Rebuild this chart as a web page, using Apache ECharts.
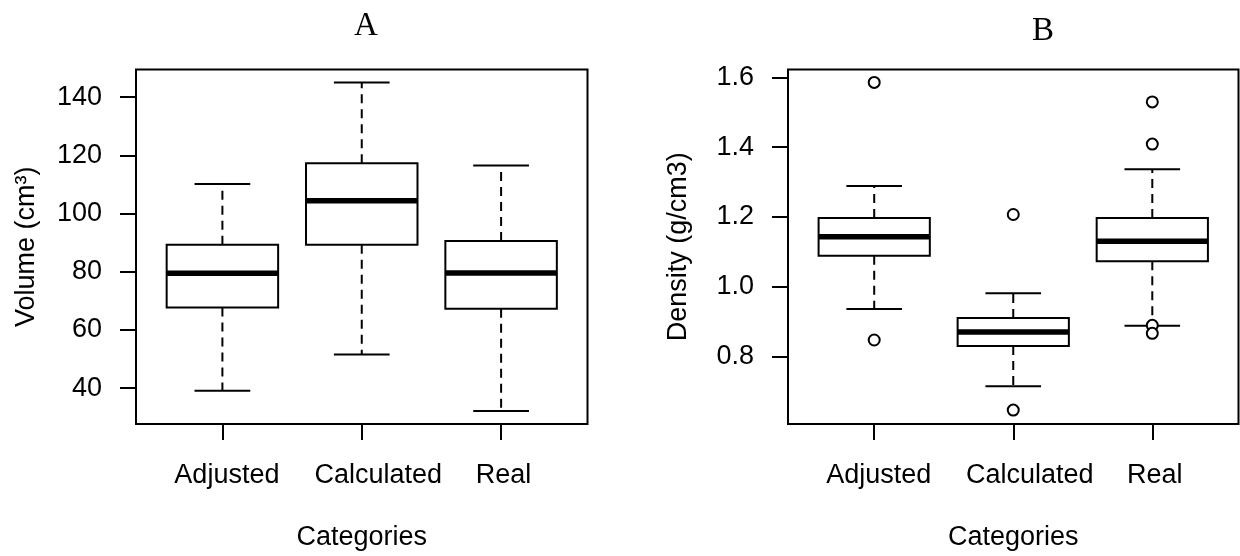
<!DOCTYPE html>
<html>
<head>
<meta charset="utf-8">
<script src="https://cdn.jsdelivr.net/npm/echarts@6.0.0/dist/echarts.min.js"></script>
<style>
  html, body { margin: 0; padding: 0; background: #fff; }
  #chart { width: 1240px; height: 556px; }
</style>
</head>
<body>
<div id="chart"></div>
<script>
// ---------------- DATA ----------------
const categories = ['Adjusted', 'Calculated', 'Real'];

// five-number summaries: [lower whisker, Q1, median, Q3, upper whisker]
const volumeAdjusted   = [39.1, 67.7, 79.5, 89.3, 110.2];
const volumeCalculated = [51.6, 89.3, 104.4, 117.3, 145.0];
const volumeReal       = [32.2, 67.3, 79.6, 90.6, 116.5];

const densityAdjusted   = [0.936, 1.089, 1.143, 1.197, 1.289];
const densityCalculated = [0.714, 0.830, 0.870, 0.910, 0.981];
const densityReal       = [0.888, 1.073, 1.130, 1.197, 1.337];

// outliers (density only)
const densityOutAdjusted   = [1.586, 0.847];
const densityOutCalculated = [1.207, 0.646];
const densityOutReal       = [1.530, 1.409, 0.889, 0.866];

const volumeTicks  = [40, 60, 80, 100, 120, 140];
const densityTicks = [0.8, 1.0, 1.2, 1.4, 1.6];
const volumeRange  = [27.7, 149.5];
const densityRange = [0.606, 1.623];

// ---------------- BUILD ----------------
function boxRows(list) {
  return list.map((s, i) => [i + 1].concat(s));
}
function outlierRows(list) {
  const rows = [];
  list.forEach((arr, i) => arr.forEach(v => rows.push([i + 1, v])));
  return rows;
}

const FONT = "'Liberation Sans', Arial, Helvetica, sans-serif";
const SERIF = "'Liberation Serif', 'Times New Roman', serif";
const FS = 27;
const LW = 2;

const richLabels = {
  a0: { fontFamily: FONT, fontSize: FS, color: '#000', padding: [0, 0, 0, 9] },
  a1: { fontFamily: FONT, fontSize: FS, color: '#000', padding: [0, 0, 0, 33] },
  a2: { fontFamily: FONT, fontSize: FS, color: '#000', padding: [0, 0, 0, 5] }
};

function renderBox(params, api) {
  const x = api.value(0);
  const lo = api.value(1), q1 = api.value(2), med = api.value(3), q3 = api.value(4), hi = api.value(5);
  const boxW = api.size([0.8, 0])[0];
  const capW = api.size([0.4, 0])[0];
  const pLo = api.coord([x, lo]);
  const pQ1 = api.coord([x, q1]);
  const pMed = api.coord([x, med]);
  const pQ3 = api.coord([x, q3]);
  const pHi = api.coord([x, hi]);
  const cx = pMed[0];
  const solid = { stroke: '#000', lineWidth: LW, fill: null };
  const dashed = { stroke: '#000', lineWidth: LW, lineDash: [9, 6], fill: null };
  return {
    type: 'group',
    children: [
      { type: 'line', shape: { x1: cx, y1: pQ3[1], x2: cx, y2: pHi[1] }, style: dashed },
      { type: 'line', shape: { x1: cx, y1: pQ1[1], x2: cx, y2: pLo[1] }, style: dashed },
      { type: 'line', shape: { x1: cx - capW / 2, y1: pHi[1], x2: cx + capW / 2, y2: pHi[1] }, style: solid },
      { type: 'line', shape: { x1: cx - capW / 2, y1: pLo[1], x2: cx + capW / 2, y2: pLo[1] }, style: solid },
      { type: 'rect', shape: { x: cx - boxW / 2, y: pQ3[1], width: boxW, height: pQ1[1] - pQ3[1] },
        style: { stroke: '#000', lineWidth: LW, fill: '#fff' } },
      { type: 'line', shape: { x1: cx - boxW / 2, y1: pMed[1], x2: cx + boxW / 2, y2: pMed[1] },
        style: { stroke: '#000', lineWidth: 5.5 } }
    ]
  };
}

function xAxisDef(gridIndex) {
  return {
    type: 'value', gridIndex: gridIndex, min: 0.38, max: 3.62,
    name: 'Categories', nameLocation: 'middle', nameGap: 100,
    nameMoveOverlap: false,
    nameTextStyle: { fontFamily: FONT, fontSize: FS, color: '#000' },
    axisLine: { show: false },
    splitLine: { show: false },
    axisTick: { show: true, inside: false, length: 16, customValues: [1, 2, 3],
                lineStyle: { color: '#000', width: LW } },
    axisLabel: {
      show: true, margin: 38, customValues: [1, 2, 3],
      fontFamily: FONT, fontSize: FS, color: '#000',
      formatter: function (v) {
        const i = Math.round(v) - 1;
        return '{a' + i + '|' + categories[i] + '}';
      },
      rich: richLabels
    }
  };
}

function yAxisDef(gridIndex, range, ticks, name, digits) {
  return {
    type: 'value', gridIndex: gridIndex, min: range[0], max: range[1],
    name: name, nameLocation: 'middle', nameGap: 96, nameRotate: 90,
    nameMoveOverlap: false,
    nameTextStyle: { fontFamily: FONT, fontSize: FS, color: '#000' },
    axisLine: { show: false },
    splitLine: { show: false },
    axisTick: { show: true, inside: false, length: 16, customValues: ticks,
                lineStyle: { color: '#000', width: LW } },
    axisLabel: {
      show: true, margin: 34, customValues: ticks,
      fontFamily: FONT, fontSize: FS, color: '#000',
      formatter: function (v) { return Number(v).toFixed(digits); }
    }
  };
}

const chart = echarts.init(document.getElementById('chart'), null, { renderer: 'canvas' });

chart.setOption({
  animation: false,
  backgroundColor: '#fff',
  title: [
    { text: 'A', left: 361, top: 5, textAlign: 'center',
      textStyle: { fontFamily: SERIF, fontSize: 33, fontWeight: 'normal', color: '#000' } },
    { text: 'B', left: 1038, top: 10, textAlign: 'center',
      textStyle: { fontFamily: SERIF, fontSize: 33, fontWeight: 'normal', color: '#000' } }
  ],
  grid: [
    { left: 136, right: 652.5, top: 69.5, bottom: 132, show: true, borderColor: '#000', borderWidth: LW,
      backgroundColor: 'transparent', containLabel: false, outerBoundsMode: 'none' },
    { left: 788, right: 1.5, top: 69.5, bottom: 132, show: true, borderColor: '#000', borderWidth: LW,
      backgroundColor: 'transparent', containLabel: false, outerBoundsMode: 'none' }
  ],
  xAxis: [xAxisDef(0), xAxisDef(1)],
  yAxis: [
    yAxisDef(0, volumeRange, volumeTicks, 'Volume (cm\u00B3)', 0),
    yAxisDef(1, densityRange, densityTicks, 'Density (g/cm3)', 1)
  ],
  series: [
    { type: 'custom', xAxisIndex: 0, yAxisIndex: 0, renderItem: renderBox,
      data: boxRows([volumeAdjusted, volumeCalculated, volumeReal]), z: 2 },
    { type: 'custom', xAxisIndex: 1, yAxisIndex: 1, renderItem: renderBox,
      data: boxRows([densityAdjusted, densityCalculated, densityReal]), z: 2 },
    { type: 'scatter', xAxisIndex: 1, yAxisIndex: 1, symbol: 'circle', symbolSize: 11,
      itemStyle: { color: '#fff', borderColor: '#000', borderWidth: LW, opacity: 1 },
      data: outlierRows([densityOutAdjusted, densityOutCalculated, densityOutReal]), z: 3 }
  ]
});
</script>
</body>
</html>
